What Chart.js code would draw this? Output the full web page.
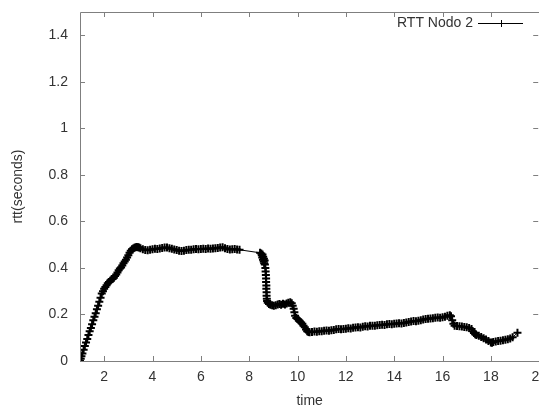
<!DOCTYPE html>
<html>
<head>
<meta charset="utf-8">
<script src="https://cdn.jsdelivr.net/npm/chart.js@4"></script>
<style>
html,body{margin:0;padding:0;background:#fff;overflow:hidden;}
#wrap{width:539px;height:407px;position:relative;overflow:hidden;}
#c{position:absolute;left:0;top:0;}
</style>
</head>
<body>
<div id="wrap"><canvas id="c" width="539" height="407"></canvas></div>
<script>
const seriesName = 'RTT Nodo 2';
const xTitle = 'time';
const yTitle = 'rtt(seconds)';
const xTickValues = [2, 4, 6, 8, 10, 12, 14, 16, 18, 20];
const yTickValues = [0, 0.2, 0.4, 0.6, 0.8, 1, 1.2, 1.4];

const timeValues = [
  1.00,1.03,1.06,1.10,1.15,1.20,1.25,1.30,1.35,1.40,1.45,1.50,1.55,1.60,1.65,1.70,1.75,1.80,1.85,1.90,
  1.95,2.00,2.05,2.10,2.15,2.20,2.25,2.30,2.35,2.40,2.45,2.50,2.55,2.60,2.65,2.70,2.75,2.80,2.85,2.90,
  2.95,3.00,3.05,3.10,3.15,3.20,3.25,3.30,3.35,3.40,3.45,3.50,3.60,3.70,3.80,3.90,4.00,4.10,4.20,4.30,
  4.40,4.50,4.60,4.70,4.80,4.90,5.00,5.10,5.20,5.30,5.40,5.50,5.60,5.70,5.80,5.90,6.00,6.10,6.20,6.30,
  6.40,6.50,6.60,6.70,6.80,6.90,7.00,7.10,7.20,7.30,7.40,7.50,7.60,
  8.45,8.50,8.52,8.54,8.55,8.57,8.58,8.60,8.61,8.62,8.64,8.65,8.67,8.68,8.69,8.70,8.70,8.71,8.71,8.72,
  8.72,8.73,8.74,8.77,8.82,8.88,8.95,9.02,9.10,9.18,9.25,9.32,9.40,9.48,9.55,9.62,9.70,9.76,9.80,9.84,
  9.87,9.90,9.95,10.00,10.05,10.10,10.15,10.20,10.25,10.30,10.35,10.40,10.45,10.50,10.60,10.70,10.80,10.90,11.00,11.10,
  11.20,11.30,11.40,11.50,11.60,11.70,11.80,11.90,12.00,12.10,12.20,12.30,12.40,12.50,12.60,12.70,12.80,12.90,13.00,13.10,
  13.20,13.30,13.40,13.50,13.60,13.70,13.80,13.90,14.00,14.10,14.20,14.30,14.40,14.50,14.60,14.70,14.80,14.90,15.00,15.10,
  15.20,15.30,15.40,15.50,15.60,15.70,15.80,15.90,16.00,16.10,16.20,16.30,16.35,16.40,16.45,16.50,16.60,16.70,16.80,16.90,
  17.00,17.10,17.20,17.25,17.30,17.35,17.40,17.50,17.60,17.70,17.80,17.90,18.00,18.05,18.10,18.20,18.30,18.40,18.50,18.60,
  18.70,18.80,18.90,19.10
];
const rttValues = [
  0.000,0.010,0.020,0.032,0.048,0.064,0.080,0.095,0.112,0.128,0.142,0.158,0.175,0.190,0.205,0.222,0.238,0.255,0.272,0.290,
  0.300,0.310,0.318,0.326,0.334,0.340,0.345,0.350,0.352,0.358,0.365,0.372,0.380,0.390,0.398,0.402,0.410,0.420,0.428,0.435,
  0.445,0.455,0.465,0.474,0.480,0.484,0.487,0.489,0.490,0.489,0.488,0.485,0.480,0.477,0.476,0.478,0.480,0.482,0.481,0.483,
  0.486,0.488,0.488,0.485,0.482,0.479,0.477,0.474,0.473,0.474,0.477,0.478,0.478,0.480,0.481,0.480,0.481,0.482,0.481,0.483,
  0.482,0.484,0.485,0.486,0.488,0.489,0.485,0.481,0.479,0.480,0.481,0.479,0.478,
  0.465,0.462,0.455,0.445,0.458,0.435,0.448,0.428,0.440,0.420,0.432,0.415,0.400,0.385,0.370,0.355,0.340,0.325,0.310,0.295,
  0.280,0.268,0.258,0.250,0.245,0.242,0.240,0.238,0.240,0.243,0.245,0.242,0.246,0.243,0.247,0.250,0.253,0.248,0.238,0.225,
  0.210,0.195,0.185,0.180,0.175,0.170,0.165,0.160,0.152,0.145,0.135,0.128,0.125,0.124,0.125,0.127,0.126,0.128,0.128,0.130,
  0.131,0.130,0.132,0.133,0.136,0.137,0.136,0.138,0.139,0.141,0.140,0.143,0.144,0.145,0.144,0.147,0.149,0.148,0.151,0.152,
  0.151,0.154,0.155,0.156,0.155,0.158,0.159,0.158,0.160,0.161,0.162,0.161,0.163,0.165,0.168,0.170,0.172,0.171,0.173,0.175,
  0.178,0.180,0.182,0.183,0.184,0.186,0.187,0.186,0.188,0.190,0.194,0.197,0.192,0.175,0.160,0.152,0.150,0.149,0.148,0.146,
  0.145,0.142,0.138,0.128,0.120,0.115,0.112,0.108,0.103,0.098,0.092,0.086,0.080,0.078,0.082,0.084,0.086,0.087,0.089,0.091,
  0.094,0.097,0.102,0.121
];

const points = timeValues.map((t, i) => ({x: t, y: rttValues[i]}));

const FONT = '"Liberation Sans", Arial, sans-serif';
const TEXT = '#333333';
const AXIS = '#7f7f7f';
const TARGET_RIGHT = 539;

const framePlugin = {
  id: 'gnuFrame',
  afterDatasetsDraw(chart) {
    const {ctx, chartArea: a, scales: {x, y}} = chart;
    ctx.save();
    ctx.strokeStyle = AXIS;
    ctx.lineWidth = 1;
    ctx.beginPath();
    ctx.rect(Math.round(a.left) + 0.5, Math.round(a.top) + 0.5, Math.round(a.right - a.left), Math.round(a.bottom - a.top));
    ctx.stroke();
    const tl = 5;
    ctx.beginPath();
    xTickValues.forEach(v => {
      const px = Math.round(x.getPixelForValue(v)) + 0.5;
      ctx.moveTo(px, a.bottom); ctx.lineTo(px, a.bottom - tl);
      ctx.moveTo(px, a.top); ctx.lineTo(px, a.top + tl);
    });
    yTickValues.forEach(v => {
      const py = Math.round(y.getPixelForValue(v)) + 0.5;
      ctx.moveTo(a.left, py); ctx.lineTo(a.left + tl, py);
      ctx.moveTo(a.right - 1, py); ctx.lineTo(a.right - 1 - tl, py);
    });
    ctx.stroke();
    // legend
    const ly = 23.5;
    const lx2 = 523, lx1 = 478;
    ctx.font = '14px ' + FONT;
    ctx.fillStyle = TEXT;
    ctx.textAlign = 'right';
    ctx.textBaseline = 'middle';
    ctx.fillText(seriesName, 473, ly);
    ctx.strokeStyle = '#000';
    ctx.beginPath();
    ctx.moveTo(lx1, ly); ctx.lineTo(lx2, ly);
    const cx = 501;
    ctx.moveTo(cx + 0.5, ly - 3.5); ctx.lineTo(cx + 0.5, ly + 3.5);
    ctx.stroke();
    ctx.restore();
  }
};

const chart = new Chart(document.getElementById('c'), {
  type: 'scatter',
  data: {
    datasets: [{
      label: seriesName,
      data: points,
      showLine: true,
      borderColor: '#000',
      backgroundColor: '#000',
      borderWidth: 1,
      pointStyle: 'cross',
      pointRadius: 4,
      pointBorderWidth: 2,
      pointBorderColor: '#000',
      tension: 0
    }]
  },
  options: {
    responsive: false,
    maintainAspectRatio: false,
    animation: false,
    devicePixelRatio: 1,
    layout: {padding: {top: 12, right: 0, left: 0, bottom: 0}},
    plugins: {legend: {display: false}, tooltip: {enabled: false}},
    scales: {
      x: {
        type: 'linear',
        min: 1, max: 20,
        grid: {display: false, drawTicks: false},
        border: {display: false},
        afterBuildTicks: s => { s.ticks = xTickValues.map(v => ({value: v})); },
        afterFit: s => { s.height = 46; },
        ticks: {
          padding: 8,
          color: TEXT,
          font: {family: FONT, size: 14},
          maxRotation: 0,
          autoSkip: false,
          callback: v => String(v)
        },
        title: {
          display: true, text: xTitle, color: TEXT,
          font: {family: FONT, size: 14, lineHeight: 1},
          padding: {top: 0, bottom: -1}
        }
      },
      y: {
        type: 'linear',
        min: 0, max: 1.5,
        grid: {display: false, drawTicks: false},
        border: {display: false},
        afterBuildTicks: s => { s.ticks = yTickValues.map(v => ({value: v})); },
        afterFit: s => { s.width = 80; s.paddingTop = 0; s.paddingBottom = 0; },
        ticks: {
          padding: 12,
          color: TEXT,
          font: {family: FONT, size: 14},
          autoSkip: false,
          callback: v => String(Math.round(v * 10) / 10)
        },
        title: {
          display: true, text: yTitle, color: TEXT,
          font: {family: FONT, size: 14, lineHeight: 1},
          padding: {top: 11, bottom: 0}
        }
      }
    }
  },
  plugins: [framePlugin]
});

// widen the canvas (clipped by the wrapper) so the plot frame's right edge sits at the window edge
let canvasW = 539;
for (let i = 0; i < 4; i++) {
  const diff = Math.round(TARGET_RIGHT - chart.chartArea.right);
  if (diff === 0) break;
  canvasW += diff;
  chart.resize(canvasW, 407);
}
</script>
</body>
</html>
